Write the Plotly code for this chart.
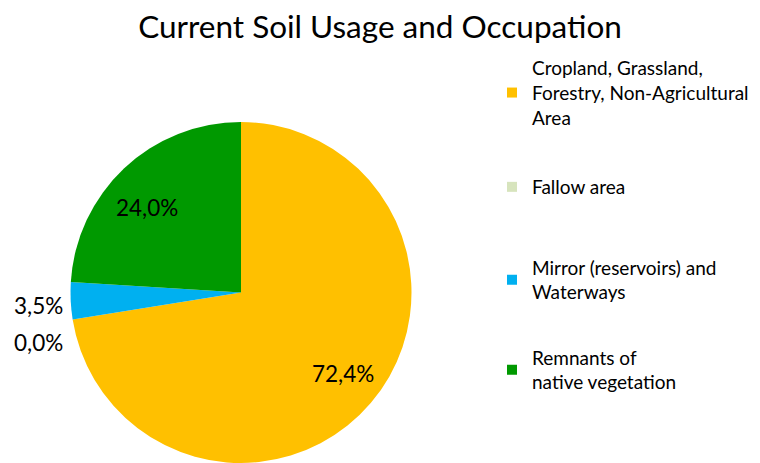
import math
import plotly.graph_objects as go

title = "Current Soil Usage and Occupation"
categories = [
    "Cropland, Grassland,<br>Forestry, Non-Agricultural<br>Area",
    "Fallow area",
    "Mirror (reservoirs) and<br>Waterways",
    "Remnants of<br>native vegetation",
]
values = [72.4, 0.0, 3.5, 24.0]
colors = ["#FFC000", "#D7E4BD", "#00B0F0", "#009900"]

FONT = "Lato"
W, H = 760, 463
OFF = 8  # page body margin: figure is drawn 8px right/down in the window

# pie geometry (window pixels -> figure pixels)
CX, CY, R = 241 - OFF, 292.5 - OFF, 170.5

fig = go.Figure()
fig.add_trace(go.Pie(
    labels=categories,
    values=values,
    marker=dict(colors=colors, line=dict(width=0)),
    sort=False,
    direction="clockwise",
    rotation=0,
    textinfo="none",
    domain=dict(x=[(CX - R) / W, (CX + R) / W],
                y=[(H - (CY + R)) / H, (H - (CY - R)) / H]),
    showlegend=False,
    hoverinfo="label+percent",
))

# data labels placed near each slice's bisector (inside for large slices,
# just outside the rim for thin ones; the empty slice is nudged down)
total = sum(values)
cum = 0.0
mids = []
for v in values:
    mids.append((cum + v / 2) / total * 2 * math.pi)
    cum += v
radial = [0.763, 1.2, 1.19, 0.745]
angle_adj = [-1.8, 0, 0, -4.7]   # degrees
nudge = [0, 18, 3, 0]            # px down
annotations = []
for v, a, rf, da, dy in zip(values, mids, radial, angle_adj, nudge):
    a = a + math.radians(da)
    x = CX + rf * R * math.sin(a)
    y = CY - rf * R * math.cos(a) + dy
    annotations.append(dict(
        text=f"{v:.1f}%".replace(".", ","),
        x=x / W, y=1 - y / H, xref="paper", yref="paper",
        showarrow=False, xanchor="center", yanchor="middle",
        font=dict(family=FONT, size=22.5, color="#000000"),
    ))

# one legend per category so the entries are spaced like the original
legend_y = [93, 187, 280, 370]
for i, (lab, col) in enumerate(zip(categories, colors)):
    name = "legend" if i == 0 else f"legend{i+1}"
    fig.add_trace(go.Scatter(
        x=[None], y=[None], mode="markers", name=lab,
        marker=dict(symbol="square", size=10, color=col),
        legend=name, showlegend=True, hoverinfo="skip",
    ))
    fig.update_layout({name: dict(
        x=(492 - OFF) / W, xanchor="left",
        y=1 - (legend_y[i] - OFF) / H, yanchor="middle",
        font=dict(family=FONT, size=19, color="#000000"),
        bgcolor="rgba(0,0,0,0)", borderwidth=0,
    )})

fig.update_layout(
    width=W, height=H,
    margin=dict(l=0, r=0, t=0, b=0),
    paper_bgcolor="white", plot_bgcolor="white",
    separators=",.",
    title=dict(text=title, x=(380 - OFF) / W, xanchor="center",
               y=1 - (27 - OFF) / H, yanchor="middle", yref="container",
               font=dict(family=FONT, size=31.5, color="#000000")),
    xaxis=dict(visible=False), yaxis=dict(visible=False),
    annotations=annotations,
)

fig.write_html("out.html")
